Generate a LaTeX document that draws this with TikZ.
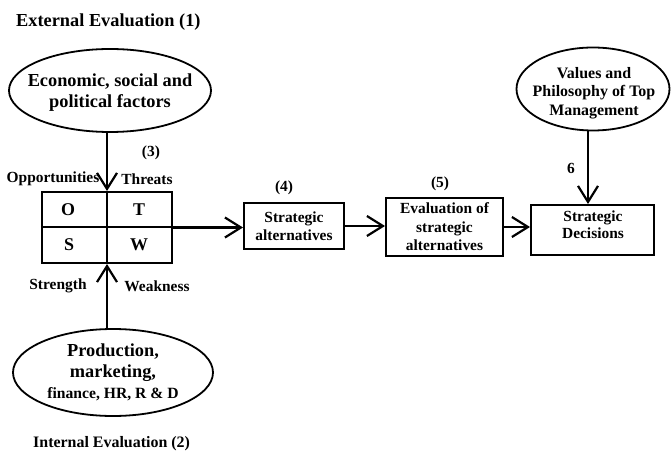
\documentclass[tikz,border=0pt]{standalone}
\usepackage{fontspec}
\setmainfont{Liberation Serif}
\usetikzlibrary{arrows.meta,shapes.geometric}
\tikzset{
  ell/.style={draw, ellipse, line width=1.8bp, inner sep=0pt},
  boxnode/.style={draw, rectangle, line width=2bp, inner sep=0pt, align=center,
    font=\fontsize{15.5}{18.5}\selectfont\bfseries},
  txt/.style={inner sep=0pt, align=center},
  lbl/.style={inner sep=0pt, font=\fontsize{15.5}{18}\selectfont\bfseries},
  big/.style={inner sep=0pt, align=center, font=\fontsize{18.4}{21}\selectfont\bfseries},
  arr/.style={line width=2.2bp, -{Straight Barb[length=16bp, width=20bp, line width=2.2bp]}},
}
\begin{document}
\begin{tikzpicture}[x=1bp,y=-1bp]
\useasboundingbox (0,0) rectangle (671,456);
% titles
\node[inner sep=0pt, anchor=base west, font=\fontsize{18.4}{21}\selectfont\bfseries] (exttitle) at (16,27) {External Evaluation (1)};
\node[inner sep=0pt, anchor=base west, font=\fontsize{16}{19}\selectfont\bfseries] (inttitle) at (33,447) {Internal Evaluation (2)};
% ellipses
\node[ell, minimum width=202bp, minimum height=83bp] (eco) at (110,90.5) {};
\node[big] (ecotext) at (110,93) {Economic, social and\\political factors};
\node[ell, minimum width=200bp, minimum height=87bp] (prod) at (113,372.5) {};
\node[big] (prodtext) at (113,372) {Production,\\marketing,\\{\fontsize{15.7}{19}\selectfont finance, HR, R \& D}};
\node[ell, minimum width=153bp, minimum height=83bp] (values) at (593,89) {};
\node[txt, font=\fontsize{16}{18.5}\selectfont\bfseries] (valuestext) at (594,93) {Values and\\Philosophy of Top\\Management};
% SWOT
\node[draw, rectangle, line width=2bp, minimum width=130bp, minimum height=71bp, inner sep=0pt] (swot) at (107,227.5) {};
\draw[line width=2bp] (swot.north) -- (swot.south);
\draw[line width=2bp] (swot.west) -- (swot.east);
\node[inner sep=0pt, font=\fontsize{18}{20}\selectfont\bfseries] (o) at (68,210) {O};
\node[inner sep=0pt, font=\fontsize{18}{20}\selectfont\bfseries] (t) at (139,210) {T};
\node[inner sep=0pt, font=\fontsize{18}{20}\selectfont\bfseries] (s) at (69,245) {S};
\node[inner sep=0pt, font=\fontsize{18}{20}\selectfont\bfseries] (w) at (139,245) {W};
% boxes
\node[boxnode, minimum width=100bp, minimum height=46bp] (alt) at (294,226) {Strategic\\alternatives};
\node[boxnode, minimum width=117bp, minimum height=58bp] (eval) at (444.5,227) {Evaluation of\\strategic\\alternatives};
\node[boxnode, minimum width=123bp, minimum height=50bp] (dec) at (592.5,230) {};
\node[txt, font=\fontsize{15.5}{17}\selectfont\bfseries] (dectext) at (593,225) {Strategic\\Decisions};
% labels
\node[lbl] (l3) at (151,153) {(3)};
\node[lbl] (lopp) at (53,179) {Opportunities};
\node[lbl] (lthr) at (147,179) {Threats};
\node[lbl] (lstr) at (58,286) {Strength};
\node[lbl] (lweak) at (157,286) {Weakness};
\node[lbl] (l4) at (284,188) {(4)};
\node[lbl] (l5) at (440,184) {(5)};
\node[lbl] (l6) at (571,168) {6};
% arrows
\coordinate (vtop) at ([xshift=-5bp]values.south);
\draw[arr] (swot.north |- eco.south) -- (swot.north);
\draw[arr] (swot.south |- prod.north) -- (swot.south);
\draw[arr] (swot.east) -- (swot.east -| alt.west);
\draw[arr] (alt.east) -- (alt.east -| eval.west);
\draw[arr] (eval.east) -- (eval.east -| dec.west);
\draw[arr] (vtop) -- (vtop |- dec.north);
\end{tikzpicture}
\end{document}
